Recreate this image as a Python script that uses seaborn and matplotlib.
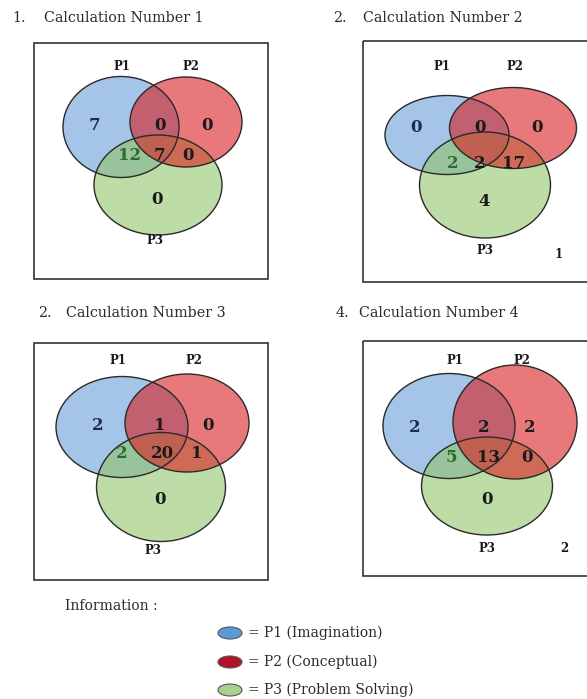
import matplotlib
matplotlib.use("Agg")
import matplotlib.pyplot as plt
from matplotlib.patches import Ellipse, Rectangle
import seaborn as sns

# ---------------- data ----------------
panel_titles = ["Calculation Number 1", "Calculation Number 2",
                "Calculation Number 3", "Calculation Number 4"]
panel_numbers = ["1.", "2.", "2.", "4."]
set_labels = ["P1", "P2", "P3"]
# region order: P1 only, P1&P2, P2 only, P1&P3, P1&P2&P3, P2&P3, P3 only
calc1 = [7, 0, 0, 12, 7, 0, 0]
calc2 = [0, 0, 0, 2, 2, 17, 4]
calc3 = [2, 1, 0, 2, 20, 1, 0]
calc4 = [2, 2, 2, 5, 13, 0, 0]
corner_notes = ["", "1", "", "2"]
legend_title = "Information :"
legend_labels = ["= P1 (Imagination)", "= P2 (Conceptual)", "= P3 (Problem Solving)"]

values = [calc1, calc2, calc3, calc4]

# ---------------- layout (pixel coordinates, y down) ----------------
W, H = 587, 699
boxes = [(34, 43, 268, 279), (363, 41, 600, 282),
         (34, 343, 268, 580), (363, 341, 600, 576)]
title_pos = [((12, 18), (44, 18)), ((333, 18), (363, 18)),
             ((38, 313), (66, 313)), ((336, 313), (359, 313))]
# ellipses (cx, cy, w, h) for P1, P2, P3
ellipses = [
    [(121, 127, 116, 101), (186, 122, 112, 90), (158, 185, 128, 100)],
    [(447, 135, 124, 79), (513, 128, 127, 81), (485, 185, 131, 106)],
    [(122, 427, 132, 101), (187, 423, 124, 98), (161, 487, 129, 109)],
    [(449, 426, 132, 105), (515, 422, 124, 114), (487, 486, 131, 98)],
]
label_pos = [
    [(122, 66), (191, 66), (155, 241)],
    [(442, 67), (515, 67), (485, 251)],
    [(118, 361), (194, 361), (153, 550)],
    [(455, 360), (522, 360), (487, 549)],
]
note_pos = [None, (559, 254), None, (564, 548)]
region_pos = [
    [(94, 126), (160, 126), (207, 126), (130, 155), (159, 155), (188, 155), (157, 199)],
    [(416, 127), (480, 127), (537, 127), (453, 163), (480, 163), (514, 163), (484, 202)],
    [(98, 425), (160, 425), (208, 425), (122, 453), (162, 453), (197, 453), (160, 500)],
    [(415, 427), (484, 427), (530, 427), (451, 457), (489, 457), (527, 457), (487, 500)],
]
region_colors = ["#1f2d4d", "#1a1a1a", "#1a1a1a", "#2d6a2d", "#1a1a1a", "#1a1a1a", "#1a1a1a"]

fill_colors = ["#679dd9", "#d91e21", "#93c569"]
draw_order = [0, 2, 1]  # P1, then P3, then P2 on top
legend_colors = ["#5b9bd5", "#b3122b", "#a9d18e"]

# ---------------- drawing ----------------
sns.set_theme(style="white")
plt.rcParams["font.family"] = ["DejaVu Serif"]

fig = plt.figure(figsize=(W / 100, H / 100), dpi=100)
ax = fig.add_axes([0, 0, 1, 1])
ax.set_xlim(0, W)
ax.set_ylim(H, 0)
ax.axis("off")

text_col = "#2b2b2b"
for p in range(4):
    x0, y0, x1, y1 = boxes[p]
    ax.add_patch(Rectangle((x0, y0), x1 - x0, y1 - y0, fill=False,
                           edgecolor="#222222", linewidth=1.1, zorder=5))
    (nx, ny), (tx, ty) = title_pos[p]
    ax.text(nx, ny, panel_numbers[p], ha="left", va="center", fontsize=10.3, color=text_col)
    ax.text(tx, ty, panel_titles[p], ha="left", va="center", fontsize=10.3, color=text_col)
    for z, i in enumerate(draw_order):
        cx, cy, w, h = ellipses[p][i]
        ax.add_patch(Ellipse((cx, cy), w, h, facecolor=fill_colors[i], alpha=0.6,
                             edgecolor="none", zorder=2 + z))
    for i, (cx, cy, w, h) in enumerate(ellipses[p]):
        ax.add_patch(Ellipse((cx, cy), w, h, fill=False, edgecolor="#2a2a2a",
                             linewidth=1.0, zorder=6))
    for i, (lx, ly) in enumerate(label_pos[p]):
        ax.text(lx, ly, set_labels[i], ha="center", va="center", fontsize=8.5,
                fontweight="bold", color="#1a1a1a", zorder=7)
    if note_pos[p] is not None:
        ax.text(note_pos[p][0], note_pos[p][1], corner_notes[p], ha="center", va="center",
                fontsize=8.5, fontweight="bold", color="#1a1a1a", zorder=7)
    for r, (rx, ry) in enumerate(region_pos[p]):
        ax.text(rx, ry, str(values[p][r]), ha="center", va="center", fontsize=12,
                fontweight="bold", color=region_colors[r], zorder=7)

# legend
ax.text(65, 606, legend_title, ha="left", va="center", fontsize=10, color=text_col)
for i, ly in enumerate([633, 662, 690]):
    ax.add_patch(Ellipse((230, ly), 24, 12, facecolor=legend_colors[i],
                         edgecolor="#555555", linewidth=0.8, zorder=5))
    ax.text(248, ly, legend_labels[i], ha="left", va="center", fontsize=10, color=text_col)

fig.savefig("out.png", dpi=100, facecolor="white")
